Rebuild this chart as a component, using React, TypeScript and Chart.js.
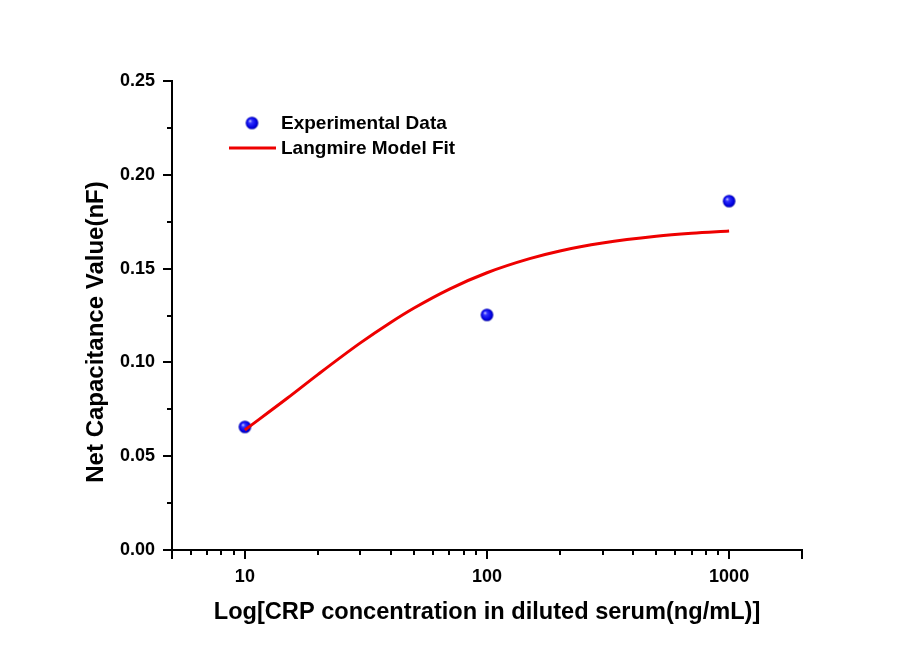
import React, { useEffect, useRef } from "react";
import { Chart, registerables } from "chart.js";

Chart.register(...registerables);

// Experimental data
const expConc = [10, 100, 1000];
const expCap = [0.0656, 0.1253, 0.186];

// Langmuir model fit curve
const fitConc = [10, 15, 20, 30, 40, 50, 70, 100, 150, 200, 300, 500, 700, 1000];
const fitCap = [0.064, 0.081, 0.0935, 0.1104, 0.1213, 0.129, 0.1391, 0.1478, 0.1553, 0.1594, 0.1636, 0.1672, 0.1688, 0.17];

// Axis ticks
const xMajorTicks = [10, 100, 1000];
const xMinorTicks = [6, 7, 8, 9, 20, 30, 40, 50, 60, 70, 80, 90, 200, 300, 400, 500, 600, 700, 800, 900];
const xEndTicks = [5, 2000];
const yMajorTicks = [0, 0.05, 0.1, 0.15, 0.2, 0.25];
const yMinorTicks = [0.025, 0.075, 0.125, 0.175, 0.225];

const xTitle = "Log[CRP concentration in diluted serum(ng/mL)]";
const yTitle = "Net Capacitance Value(nF)";
const expLabel = "Experimental Data";
const fitLabel = "Langmire Model Fit";

function makeSphere(r: number): HTMLCanvasElement {
  const c = document.createElement("canvas");
  const s = Math.ceil(r * 2 + 2);
  c.width = s;
  c.height = s;
  const ctx = c.getContext("2d")!;
  const cx = s / 2;
  const g = ctx.createRadialGradient(cx - r * 0.35, cx - r * 0.35, 0, cx, cx, r);
  g.addColorStop(0, "#e0e0ff");
  g.addColorStop(0.3, "#3030ff");
  g.addColorStop(0.8, "#0000e0");
  g.addColorStop(1, "#0000a0");
  ctx.fillStyle = g;
  ctx.beginPath();
  ctx.arc(cx, cx, r, 0, Math.PI * 2);
  ctx.fill();
  return c;
}

export default function App() {
  const ref = useRef<HTMLCanvasElement>(null);

  useEffect(() => {
    const canvas = ref.current!;
    const sphere = makeSphere(6.3);

    const customPlugin = {
      id: "custom",
      beforeDraw(chart: any) {
        const ctx = chart.ctx;
        ctx.save();
        ctx.fillStyle = "#ffffff";
        ctx.fillRect(0, 0, chart.width, chart.height);
        ctx.restore();
      },
      afterDraw(chart: any) {
        const ctx = chart.ctx;
        const xs = chart.scales.x;
        const ys = chart.scales.y;
        const area = chart.chartArea;
        ctx.save();
        ctx.strokeStyle = "#000";
        ctx.lineWidth = 2;
        // x ticks
        const drawX = (v: number, len: number) => {
          const px = Math.round(xs.getPixelForValue(v));
          ctx.beginPath();
          ctx.moveTo(px, area.bottom);
          ctx.lineTo(px, area.bottom + len);
          ctx.stroke();
        };
        xMajorTicks.forEach((v) => drawX(v, 9));
        xEndTicks.forEach((v) => drawX(v, 9));
        xMinorTicks.forEach((v) => drawX(v, 5));
        // y ticks
        const drawY = (v: number, len: number) => {
          const py = Math.round(ys.getPixelForValue(v));
          ctx.beginPath();
          ctx.moveTo(area.left, py);
          ctx.lineTo(area.left - len, py);
          ctx.stroke();
        };
        yMajorTicks.forEach((v) => drawY(v, 9));
        yMinorTicks.forEach((v) => drawY(v, 5));

        // titles
        ctx.fillStyle = "#000";
        ctx.textAlign = "center";
        ctx.textBaseline = "middle";
        ctx.font = "bold 23.6px Arial, 'Liberation Sans', sans-serif";
        ctx.fillText(xTitle, 487, 612);
        ctx.font = "bold 24px Arial, 'Liberation Sans', sans-serif";
        ctx.save();
        ctx.translate(96, 332);
        ctx.rotate(-Math.PI / 2);
        ctx.fillText(yTitle, 0, 0);
        ctx.restore();

        // legend
        ctx.drawImage(sphere, 252 - sphere.width / 2, 123 - sphere.height / 2);
        ctx.strokeStyle = "#ee0000";
        ctx.lineWidth = 3;
        ctx.beginPath();
        ctx.moveTo(229, 148);
        ctx.lineTo(276, 148);
        ctx.stroke();
        ctx.font = "bold 19px Arial, 'Liberation Sans', sans-serif";
        ctx.textAlign = "left";
        ctx.fillStyle = "#000";
        ctx.fillText(chart.data.datasets[1].label, 281, 124);
        ctx.fillText(chart.data.datasets[0].label, 281, 149);
        ctx.restore();
      },
    };

    const chart = new Chart(canvas, {
      type: "scatter",
      data: {
        datasets: [
          {
            type: "line",
            label: fitLabel,
            data: fitConc.map((x, i) => ({ x, y: fitCap[i] })),
            borderColor: "#ee0000",
            borderWidth: 3,
            pointRadius: 0,
            cubicInterpolationMode: "monotone",
            fill: false,
            order: 0,
          } as any,
          {
            type: "scatter",
            label: expLabel,
            data: expConc.map((x, i) => ({ x, y: expCap[i] })),
            pointStyle: sphere as any,
            pointRadius: 6,
            order: 1,
          },
        ],
      },
      options: {
        responsive: false,
        animation: false,
        layout: { padding: { top: 81, right: 115, left: 0, bottom: 0 } },
        plugins: {
          legend: { display: false },
          tooltip: { enabled: false },
        },
        scales: {
          x: {
            type: "logarithmic",
            min: 5,
            max: 2000,
            grid: { display: false },
            border: { display: true, color: "#000", width: 2 },
            afterBuildTicks: (s: any) => {
              s.ticks = xMajorTicks.map((v) => ({ value: v }));
            },
            afterFit: (s: any) => {
              s.height = 101;
            },
            ticks: {
              autoSkip: false,
              maxRotation: 0,
              padding: 8,
              color: "#000",
              font: { family: "Arial, 'Liberation Sans', sans-serif", size: 18, weight: "bold" },
              callback: (v: any) => String(v),
            },
          },
          y: {
            type: "linear",
            min: 0,
            max: 0.25,
            grid: { display: false },
            border: { display: true, color: "#000", width: 2 },
            afterBuildTicks: (s: any) => {
              s.ticks = yMajorTicks.map((v) => ({ value: v }));
            },
            afterFit: (s: any) => {
              s.width = 172;
            },
            ticks: {
              autoSkip: false,
              padding: 9,
              color: "#000",
              font: { family: "Arial, 'Liberation Sans', sans-serif", size: 18, weight: "bold" },
              callback: (v: any) => Number(v).toFixed(2),
            },
          },
        },
      },
      plugins: [customPlugin],
    });
    return () => chart.destroy();
  }, []);

  return (
    <canvas
      ref={ref}
      width={917}
      height={651}
      style={{ position: "absolute", left: 0, top: 0, width: 917, height: 651 }}
    />
  );
}
